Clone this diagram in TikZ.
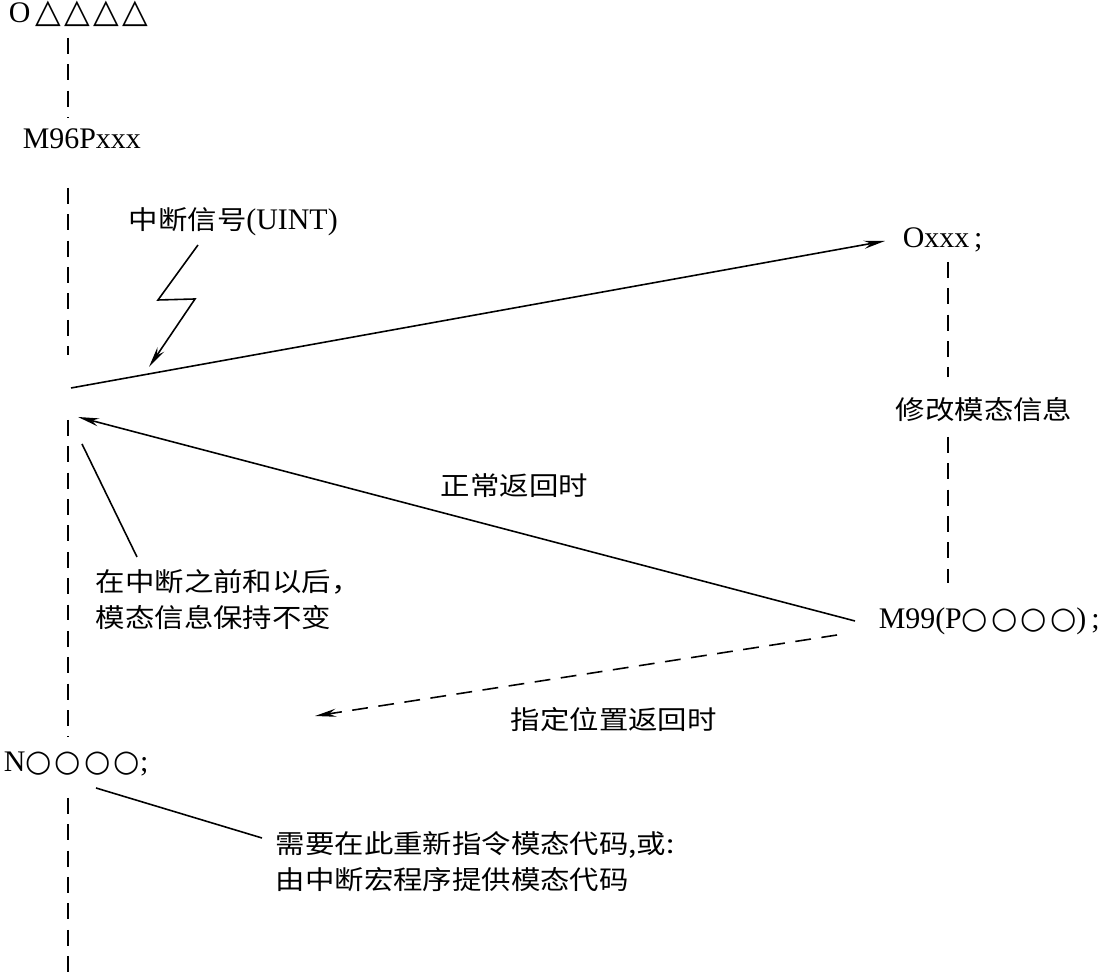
\documentclass[tikz,border=0pt]{standalone}
\usepackage{fontspec}
\setmainfont{Liberation Serif}
\newfontfamily\cjk[FakeStretch=1.13]{Noto Sans CJK SC}
\newfontfamily\symfont[LetterSpace=10]{DejaVu Sans}
\usetikzlibrary{arrows.meta,calc}
\tikzset{
  code/.style={inner sep=0pt,font=\fontsize{8.5}{10.2}\selectfont},
  zh/.style={inner sep=0pt,align=left,font=\cjk\fontsize{7.4}{10.2}\selectfont},
}
\newcommand\zhs[1]{{\cjk\fontsize{7.4}{10.2}\selectfont #1}}
\newcommand\symb[2][8.6]{{\symfont\fontsize{#1}{10.2}\selectfont #2}}

\begin{document}
\begin{tikzpicture}[x=0.01cm,y=-0.01cm,line width=0.45pt,
    arr/.style={-{Stealth[length=6pt,width=2.3pt]}},
    dashline/.style={dash pattern=on 4.5pt off 3pt}]
        \useasboundingbox (0,0) rectangle (1103,974);

        % main program
        \node[code,anchor=base west] (top) at (8,23) {O\,\symb[9.5]{△△△△}};
        \node[code,anchor=base west] (m96) at (22,149) {M96Pxxx};
        \node[code,anchor=base west] (nseq) at (3,772) {N\symb{○○○○};};
        \foreach \ya/\yb in {38/118,188/355,420/737,798/974}{
          \draw[dashline] (68,\ya) -- (68,\yb);
        }

        % interrupt macro program
        \node[code,anchor=base west] (oxxx) at (902,248) {Oxxx\,;};
        \node[zh,anchor=west] (modinfo) at (895,410) {修改模态信息};
        \node[code,anchor=base west] (m99) at (878,629)
          {M99(P\symb{○○○○})\,;};
        \foreach \ya/\yb in {262/377,437/583}{
          \draw[dashline] (948,\ya) -- (948,\yb);
        }

        % jump and returns
        \coordinate (intr) at (71,388);
        \coordinate (back) at (78,417);
        \coordinate (jump) at (315,716);
        \draw[arr] (intr) -- ($(oxxx.base west)+(-17,-7)$);
        \draw[arr] ($(m99.base west)+(-23,-8)$) -- (back);
        \draw[arr,dashline] ($(m99.base west)+(-41,6)$) -- (jump);
        \node[zh,anchor=west] (normal) at (440,486) {正常返回时};
        \node[zh,anchor=west] (spec) at (510,720) {指定位置返回时};

        % interrupt signal
        \node[code,anchor=base west] (signal) at (128,230)
          {\zhs{中断信号}(UINT)};
        \coordinate (boltA) at (198,245);
        \coordinate (boltB) at (158,300);
        \coordinate (boltC) at (195,299);
        \coordinate (boltD) at (149,367);
        \draw[arr] (boltA) -- (boltB) -- (boltC) -- (boltD);

        % notes
        \node[zh,anchor=west] (note1) at (95,600)
          {在中断之前和以后，\\模态信息保持不变};
        \node[zh,anchor=west] (note2) at (275,862)
          {需要在此重新指令模态代码,或:\\由中断宏程序提供模态代码};
        \coordinate (keepA) at (82,444);
        \coordinate (keepB) at (137,557);
        \coordinate (resetA) at (96,788);
        \coordinate (resetB) at (262,838);
        \draw (keepA) -- (keepB);
        \draw (resetA) -- (resetB);
      \end{tikzpicture}
\end{document}
